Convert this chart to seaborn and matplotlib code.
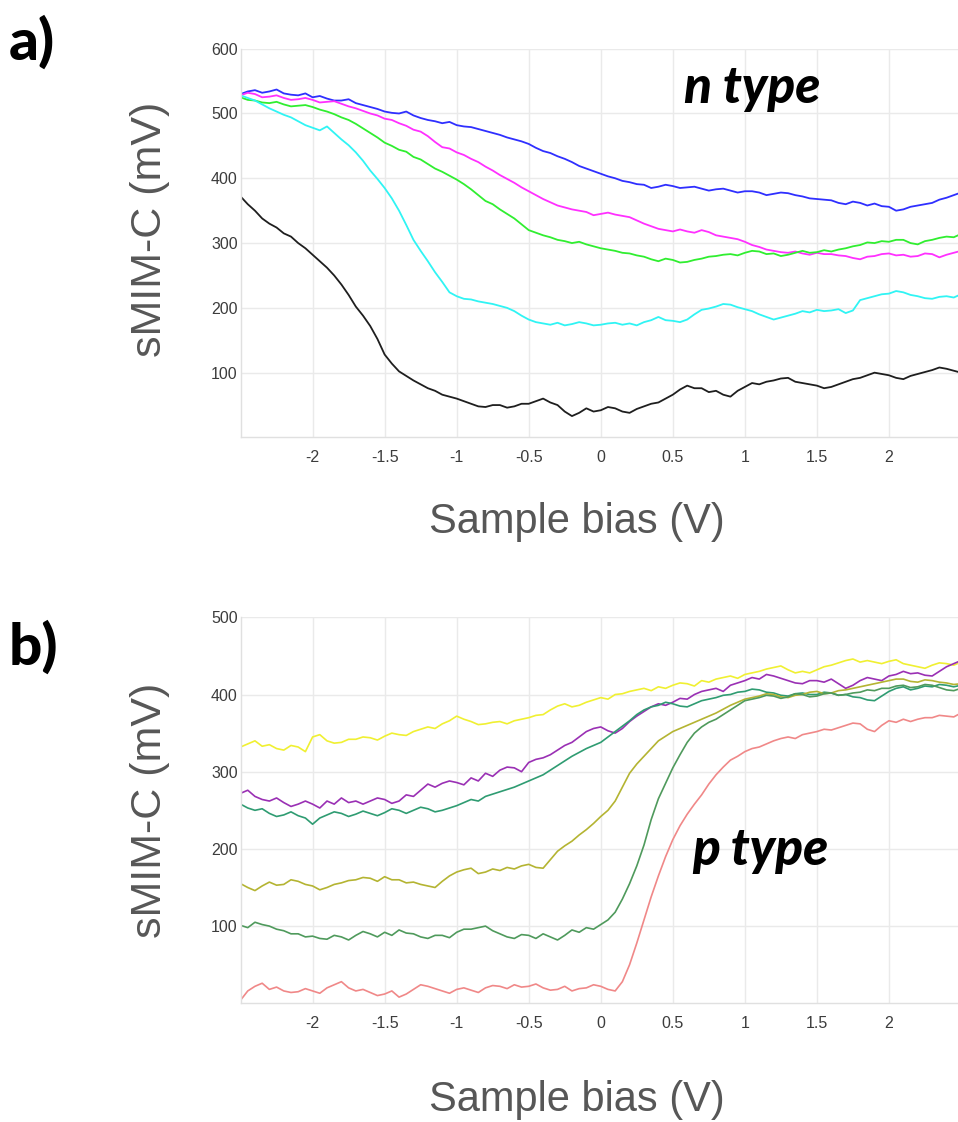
import numpy as np
import pandas as pd
import matplotlib
matplotlib.use('Agg')
import matplotlib.pyplot as plt
import seaborn as sns
from matplotlib import font_manager

# sample bias grid (V), 0.05 V step
bias = np.round(np.arange(-2.5, 2.5001, 0.05), 2)

# ---- panel a) n type, sMIM-C (mV) ----
n_blue = [530, 534, 536, 532, 534, 537, 531, 529, 528, 531,
          525, 527, 523, 520, 520, 522, 516, 513, 510, 507,
          503, 501, 500, 503, 497, 493, 490, 488, 485, 487,
          482, 480, 479, 476, 473, 470, 467, 463, 460, 457,
          453, 447, 442, 439, 434, 430, 425, 419, 415, 411,
          407, 403, 400, 396, 394, 391, 390, 385, 387, 390,
          388, 385, 386, 387, 384, 381, 383, 384, 381, 378,
          380, 380, 378, 374, 376, 378, 377, 374, 372, 369,
          368, 367, 366, 362, 360, 364, 362, 358, 361, 357,
          356, 350, 352, 356, 358, 360, 362, 367, 370, 374,
          378]
n_magenta = [528, 532, 530, 525, 526, 528, 524, 521, 522, 524,
             521, 517, 518, 519, 515, 511, 508, 504, 500, 497,
             492, 490, 485, 481, 475, 472, 465, 456, 448, 446,
             440, 436, 430, 425, 418, 412, 405, 399, 393, 386,
             380, 374, 368, 363, 358, 355, 352, 350, 348, 343,
             345, 347, 344, 342, 340, 335, 330, 326, 322, 320,
             318, 321, 318, 316, 320, 317, 312, 310, 308, 306,
             302, 297, 294, 290, 288, 286, 285, 287, 284, 282,
             285, 283, 283, 281, 280, 277, 275, 279, 280, 283,
             284, 281, 282, 279, 280, 284, 283, 278, 282, 285,
             288]
n_green = [525, 521, 520, 517, 516, 518, 514, 511, 512, 513,
           510, 506, 503, 499, 494, 490, 484, 477, 470, 463,
           455, 450, 444, 441, 433, 429, 422, 415, 410, 404,
           398, 391, 383, 374, 365, 360, 352, 345, 338, 329,
           320, 316, 312, 309, 305, 303, 300, 302, 298, 295,
           292, 290, 288, 285, 284, 281, 279, 275, 272, 276,
           274, 270, 271, 274, 276, 279, 280, 282, 283, 281,
           285, 288, 287, 283, 284, 280, 282, 285, 288, 285,
           286, 289, 287, 290, 292, 295, 297, 301, 300, 303,
           302, 305, 305, 300, 298, 303, 305, 308, 310, 309,
           314]
n_cyan = [528, 524, 520, 514, 508, 503, 498, 494, 488, 482,
          478, 474, 480, 470, 460, 451, 440, 427, 412, 399,
          385, 369, 350, 328, 305, 288, 272, 255, 240, 224,
          218, 214, 213, 210, 208, 206, 203, 200, 195, 188,
          182, 178, 176, 174, 177, 173, 175, 178, 176, 173,
          174, 176, 177, 174, 176, 173, 178, 181, 186, 181,
          180, 178, 182, 190, 197, 199, 202, 206, 205, 201,
          198, 195, 190, 186, 182, 185, 188, 191, 195, 193,
          197, 195, 196, 198, 192, 196, 212, 215, 218, 221,
          222, 226, 224, 220, 218, 215, 214, 217, 218, 216,
          221]
n_black = [372, 360, 350, 338, 330, 324, 315, 310, 300, 292,
           282, 272, 262, 250, 236, 220, 202, 188, 172, 152,
           128, 114, 102, 95, 88, 82, 76, 72, 66, 63,
           60, 56, 52, 48, 47, 50, 50, 46, 48, 52,
           52, 56, 60, 54, 50, 40, 33, 38, 45, 40,
           42, 47, 45, 40, 38, 44, 48, 52, 54, 60,
           66, 74, 80, 76, 76, 70, 72, 66, 63, 72,
           78, 84, 82, 86, 88, 91, 92, 86, 84, 82,
           80, 76, 78, 82, 86, 90, 92, 96, 100, 98,
           96, 92, 90, 95, 98, 101, 104, 108, 106, 103,
           100]

# ---- panel b) p type, sMIM-C (mV) ----
p_yellow = [332, 336, 340, 333, 335, 330, 328, 334, 332, 326,
            345, 348, 340, 337, 338, 342, 342, 345, 344, 341,
            346, 350, 348, 347, 352, 355, 358, 356, 362, 366,
            372, 368, 365, 361, 362, 364, 365, 362, 366, 368,
            370, 373, 374, 380, 385, 388, 384, 386, 390, 393,
            396, 394, 400, 401, 404, 406, 408, 405, 410, 408,
            412, 415, 414, 411, 418, 416, 420, 422, 424, 421,
            426, 428, 430, 433, 435, 437, 432, 428, 430, 428,
            432, 436, 438, 441, 444, 446, 442, 444, 442, 440,
            443, 445, 440, 438, 436, 434, 438, 441, 440, 438,
            442]
p_purple = [272, 276, 268, 264, 262, 266, 260, 255, 258, 262,
            258, 253, 262, 258, 266, 260, 262, 258, 262, 266,
            264, 259, 262, 270, 268, 276, 284, 280, 285, 288,
            286, 283, 292, 288, 298, 294, 302, 306, 305, 300,
            312, 316, 318, 322, 328, 334, 338, 345, 352, 356,
            358, 353, 350, 356, 365, 372, 378, 384, 388, 386,
            390, 395, 394, 400, 404, 406, 408, 404, 412, 415,
            418, 422, 420, 426, 424, 421, 418, 415, 414, 418,
            418, 416, 420, 414, 408, 412, 418, 422, 420, 418,
            424, 426, 430, 427, 428, 425, 424, 430, 436, 440,
            444]
p_teal = [258, 253, 250, 252, 246, 242, 244, 248, 243, 240,
          232, 240, 244, 248, 246, 242, 245, 249, 246, 243,
          247, 252, 250, 246, 250, 254, 252, 248, 250, 253,
          256, 260, 264, 262, 268, 271, 274, 277, 280, 284,
          288, 292, 296, 302, 308, 314, 320, 325, 330, 334,
          338, 345, 352, 359, 366, 374, 380, 384, 386, 390,
          388, 385, 384, 388, 392, 394, 396, 399, 400, 403,
          404, 407, 406, 403, 402, 399, 398, 401, 402, 400,
          400, 403, 402, 399, 400, 397, 396, 393, 392, 398,
          404, 408, 410, 406, 408, 411, 410, 413, 412, 410,
          412]
p_olive = [155, 150, 146, 152, 157, 153, 154, 160, 158, 154,
           152, 147, 150, 154, 156, 159, 160, 163, 162, 158,
           164, 160, 160, 156, 157, 154, 152, 150, 158, 165,
           170, 173, 175, 168, 170, 174, 172, 176, 174, 178,
           180, 176, 175, 186, 197, 204, 210, 218, 225, 233,
           242, 250, 262, 280, 298, 310, 320, 330, 340, 346,
           352, 356, 360, 364, 368, 372, 376, 381, 386, 390,
           394, 396, 398, 401, 400, 397, 396, 399, 400, 403,
           404, 401, 402, 405, 406, 408, 410, 412, 414, 416,
           418, 420, 420, 417, 416, 419, 418, 416, 415, 413,
           414]
p_green = [101, 98, 105, 102, 100, 96, 94, 90, 90, 86,
           87, 84, 83, 88, 86, 82, 88, 93, 90, 86,
           92, 88, 95, 91, 90, 86, 84, 88, 88, 85,
           92, 96, 96, 98, 100, 94, 90, 86, 84, 89,
           88, 84, 90, 86, 82, 88, 95, 92, 98, 96,
           102, 108, 118, 135, 155, 178, 205, 238, 265, 285,
           305, 322, 338, 350, 358, 364, 368, 374, 380, 386,
           392, 394, 396, 399, 398, 395, 397, 401, 400, 397,
           398, 401, 402, 399, 400, 402, 403, 406, 405, 408,
           408, 411, 412, 409, 410, 413, 412, 409, 406, 405,
           408]
p_pink = [4, 16, 22, 26, 18, 21, 16, 14, 15, 19,
          16, 13, 20, 24, 28, 20, 16, 18, 14, 10,
          12, 16, 8, 12, 18, 24, 22, 19, 16, 13,
          18, 20, 17, 14, 20, 23, 22, 19, 24, 21,
          22, 25, 20, 17, 18, 22, 16, 19, 20, 24,
          22, 18, 16, 28, 50, 78, 108, 138, 165, 190,
          212, 230, 245, 258, 270, 284, 296, 306, 315, 320,
          326, 330, 332, 336, 340, 343, 345, 343, 348, 350,
          352, 355, 354, 357, 360, 363, 362, 355, 352, 360,
          366, 364, 368, 365, 368, 370, 370, 373, 372, 371,
          376]

x_ticks = [-2, -1.5, -1, -0.5, 0, 0.5, 1, 1.5, 2]
x_tick_labels = ['-2', '-1.5', '-1', '-0.5', '0', '0.5', '1', '1.5', '2']
a_ticks = [100, 200, 300, 400, 500, 600]
b_ticks = [100, 200, 300, 400, 500]

n_curves = {'blue': n_blue, 'magenta': n_magenta, 'green': n_green,
            'cyan': n_cyan, 'black': n_black}
n_colors = {'blue': '#2f2fff', 'magenta': '#ff30ff', 'green': '#30ee30',
            'cyan': '#30f4f4', 'black': '#1e1e1e'}
p_curves = {'yellow': p_yellow, 'purple': p_purple, 'teal': p_teal,
            'olive': p_olive, 'green': p_green, 'pink': p_pink}
p_colors = {'yellow': '#f0f032', 'purple': '#9a30b4', 'teal': '#2f9c72',
            'olive': '#b4b432', 'green': '#4f9a5c', 'pink': '#f08888'}


def long_frame(curves):
    parts = []
    for name, vals in curves.items():
        parts.append(pd.DataFrame({'bias': bias, 'mv': vals, 'curve': name}))
    return pd.concat(parts, ignore_index=True)


sns.set_style('whitegrid')
names = {f.name for f in font_manager.fontManager.ttflist}
tick_font = 'Liberation Sans Narrow' if 'Liberation Sans Narrow' in names else 'Liberation Sans'
label_font = ['Liberation Sans', 'DejaVu Sans']
bold_font = ['Lato', 'Open Sans', 'DejaVu Sans']
plt.rcParams['font.family'] = label_font

fig = plt.figure(figsize=(9.58, 11.22), dpi=100)
ax1 = fig.add_axes([0.2511, 0.6101, 0.752, 0.3465])
ax2 = fig.add_axes([0.2511, 0.1058, 0.752, 0.3440])


def style(ax, yticks, ymax):
    ax.set_xlim(-2.5, 2.5)
    ax.set_ylim(0, ymax)
    ax.set_xticks(x_ticks)
    ax.set_xticklabels(x_tick_labels)
    ax.set_yticks(yticks)
    ax.set_yticklabels([str(t) for t in yticks])
    ax.set_xlabel('')
    ax.set_ylabel('')
    ax.grid(True, color='#eaeaea', lw=1.0)
    ax.set_axisbelow(True)
    for side in ['top', 'right']:
        ax.spines[side].set_visible(False)
    for side in ['left', 'bottom']:
        ax.spines[side].set_color('#e0e0e0')
        ax.spines[side].set_linewidth(1.0)
    ax.tick_params(length=0, labelcolor='#3c3c3c', labelsize=11.5)
    ax.tick_params(axis='x', pad=9)
    ax.tick_params(axis='y', pad=2)
    for lab in ax.get_xticklabels() + ax.get_yticklabels():
        lab.set_family(tick_font)


sns.lineplot(long_frame(n_curves), x='bias', y='mv', hue='curve', palette=n_colors,
             errorbar=None, legend=False, linewidth=1.3, ax=ax1)
style(ax1, a_ticks, 600)
ax1.text(1.05, 539, 'n type', ha='center', va='center', fontsize=37, color='black',
         fontweight='black', fontstyle='italic', family=bold_font)

sns.lineplot(long_frame(p_curves), x='bias', y='mv', hue='curve', palette=p_colors,
             errorbar=None, legend=False, linewidth=1.2, ax=ax2)
style(ax2, b_ticks, 500)
ax2.text(1.11, 198, 'p type', ha='center', va='center', fontsize=37, color='black',
         fontweight='black', fontstyle='italic', family=bold_font)

# axis titles and panel letters
for yc in [1 - 229 / 1122, 1 - 810 / 1122]:
    fig.text(150 / 958, yc, 'sMIM-C (mV)', rotation=90, ha='center', va='center',
             fontsize=31, color='#575757')
for yc in [1 - 522 / 1122, 1 - 1100 / 1122]:
    fig.text(577 / 958, yc, 'Sample bias (V)', ha='center', va='center',
             fontsize=30, color='#575757')
fig.text(9 / 958, 1 - 42 / 1122, 'a)', ha='left', va='center', fontsize=42,
         color='black', fontweight='black', family=bold_font)
fig.text(9 / 958, 1 - 647 / 1122, 'b)', ha='left', va='center', fontsize=42,
         color='black', fontweight='black', family=bold_font)

plt.savefig('out.png', dpi=100)
